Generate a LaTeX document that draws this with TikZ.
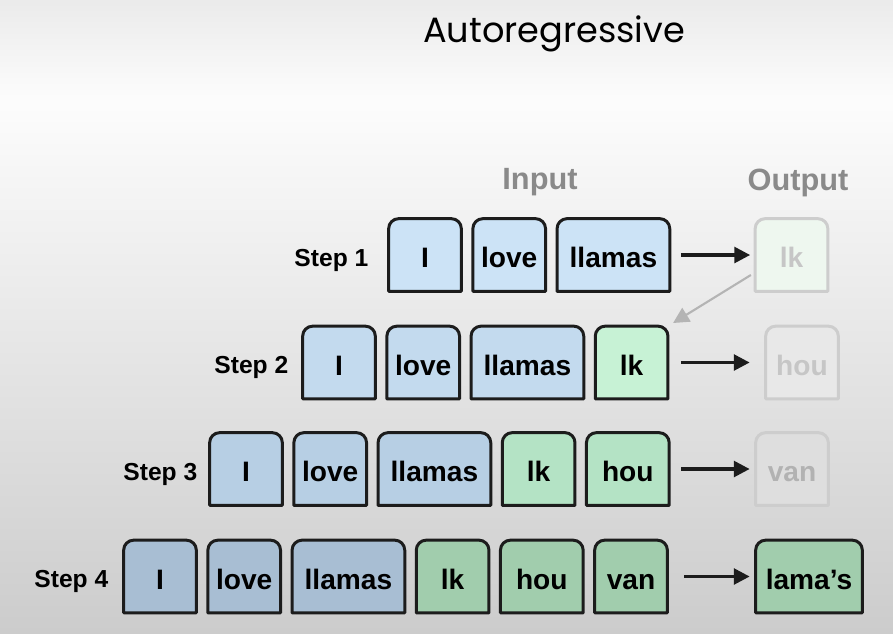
\documentclass[tikz,border=0pt]{standalone}
\usepackage{fontspec}
\setmainfont{Liberation Sans}
\newfontfamily\popfont{Poppins}
\usetikzlibrary{positioning,backgrounds,arrows.meta}

\definecolor{ink}{HTML}{1C1C1C}
\definecolor{blueA}{HTML}{CCE3F6}
\definecolor{blueB}{HTML}{C3DAEE}
\definecolor{blueC}{HTML}{B7CFE4}
\definecolor{blueD}{HTML}{A8BED3}
\definecolor{greenB}{HTML}{C7F2D5}
\definecolor{greenC}{HTML}{B4E3C5}
\definecolor{greenD}{HTML}{A1CDAD}
\definecolor{fadeA}{HTML}{EEF7EF}
\definecolor{fadeB}{HTML}{E8E8E8}
\definecolor{fadeC}{HTML}{DEDEDE}
\definecolor{fadeline}{HTML}{CDCDCD}
\definecolor{fadetext}{HTML}{C6C6C6}
\definecolor{headgray}{HTML}{8A8A8A}
\definecolor{backgray}{HTML}{B4B4B4}

\begin{document}
\begin{tikzpicture}[node distance=0.23cm]
    % Styles for tokens and arrows
    \tikzset{
      tok/.style={minimum width=1.44cm, minimum height=1.44cm, inner sep=0pt,
        text height=1.45em, text depth=0pt, font=\bfseries\fontsize{16}{18}\selectfont},
      wide/.style={minimum width=2.24cm},
      steplabel/.style={anchor=east, inner sep=0pt, yshift=-0.1cm, font=\bfseries\fontsize{14}{16}\selectfont},
      head/.style={text=headgray, font=\bfseries\fontsize{17.5}{20}\selectfont},
      boxline/.style={line width=1.7pt, line join=round},
      arrow/.style={line width=1.8pt, draw=ink, -{Triangle[length=9pt,width=9pt]}},
      back/.style={line width=1.2pt, draw=backgray, -{Triangle[length=9pt,width=9pt]}}
    }
    \useasboundingbox (0,0) rectangle (17.86,-12.66);

    % Title and headers
    \node[font=\popfont\fontsize{20}{24}\selectfont] (title) at (11.08,-0.68) {Autoregressive};
    \node[head] (input) at (10.8,-3.65) {Input};
    \node[head] (output) at (15.96,-3.65) {Output};

    % Step 1
    \node[tok] (s1a) at (8.5,-5.10) {I};
    \node[tok, right=of s1a] (s1b) {love};
    \node[tok, wide, right=of s1b] (s1c) {llamas};
    \node[tok, text=fadetext] (s1out) at (15.83,-5.10) {lk};
    \node[steplabel, left=0.4cm of s1a] (step1) {Step 1};

    % Step 2
    \node[tok] (s2a) at (6.78,-7.25) {I};
    \node[tok, right=of s2a] (s2b) {love};
    \node[tok, wide, right=of s2b] (s2c) {llamas};
    \node[tok, right=of s2c] (s2d) {lk};
    \node[tok, text=fadetext] (s2out) at (16.04,-7.25) {hou};
    \node[steplabel, left=0.28cm of s2a] (step2) {Step 2};

    % Step 3
    \node[tok] (s3a) at (4.92,-9.38) {I};
    \node[tok, right=of s3a] (s3b) {love};
    \node[tok, wide, right=of s3b] (s3c) {llamas};
    \node[tok, right=of s3c] (s3d) {lk};
    \node[tok, minimum width=1.64cm, right=of s3d] (s3e) {hou};
    \node[tok, text=fadetext!90!black] (s3out) at (15.84,-9.38) {van};
    \node[steplabel, left=0.24cm of s3a] (step3) {Step 3};

    % Step 4
    \node[tok] (s4a) at (3.2,-11.53) {I};
    \node[tok, right=of s4a] (s4b) {love};
    \node[tok, wide, right=of s4b] (s4c) {llamas};
    \node[tok, right=of s4c] (s4d) {lk};
    \node[tok, minimum width=1.64cm, right=of s4d] (s4e) {hou};
    \node[tok, right=of s4e] (s4f) {van};
    \node[tok, minimum width=2.12cm] (s4out) at (16.18,-11.53) {lama’s};
    \node[steplabel, left=0.3cm of s4a] (step4) {Step 4};

    % Arrows
    \draw[arrow, shorten <=0.22cm, shorten >=0.1cm] (s1c) -- (s1out);
    \draw[arrow, shorten <=0.26cm, shorten >=0.32cm] (s2d) -- (s2out);
    \draw[arrow, shorten <=0.24cm, shorten >=0.12cm] (s3e) -- (s3out);
    \draw[arrow, shorten <=0.34cm, shorten >=0.12cm] (s4f) -- (s4out);
    \draw[back, shorten <=0.1cm, shorten >=0.12cm] ([yshift=0.38cm]s1out.south west) -- (s2d.north east);

    % Background and token boxes
    \begin{scope}[on background layer]
      \shade[top color=black!8, bottom color=black!1] (0,0) rectangle (17.86,-2.0);
      \shade[top color=black!1, bottom color=black!20] (0,-2.0) rectangle (17.86,-12.66);
      \foreach \n/\f/\d in {s1a/blueA/ink, s1b/blueA/ink, s1c/blueA/ink, s1out/fadeA/fadeline,
          s2a/blueB/ink, s2b/blueB/ink, s2c/blueB/ink, s2d/greenB/ink, s2out/fadeB/fadeline,
          s3a/blueC/ink, s3b/blueC/ink, s3c/blueC/ink, s3d/greenC/ink, s3e/greenC/ink, s3out/fadeC/fadeline,
          s4a/blueD/ink, s4b/blueD/ink, s4c/blueD/ink, s4d/greenD/ink, s4e/greenD/ink, s4f/greenD/ink, s4out/greenD/ink}
        \draw[boxline, draw=\d, fill=\f] (\n.south west) [rounded corners=0.2cm] -- (\n.north west)
          -- (\n.north east) [sharp corners] -- (\n.south east) -- cycle;
    \end{scope}
\end{tikzpicture}
\end{document}
